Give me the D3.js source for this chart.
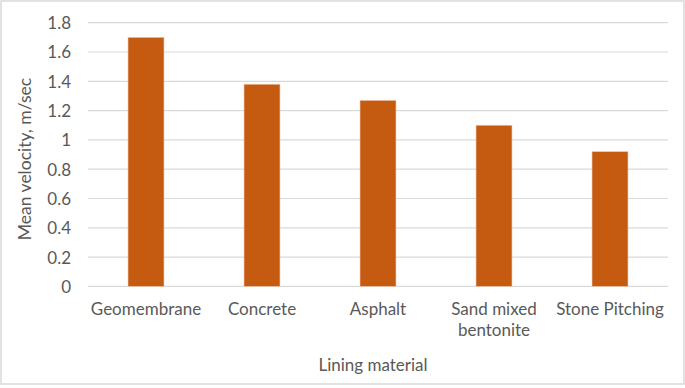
<!DOCTYPE html>
<html><head><meta charset="utf-8">
<script src="https://cdn.jsdelivr.net/npm/d3@7"></script>
<style>body{margin:0;background:#fff}svg{display:block}text{font-family:"Lato","Open Sans",sans-serif;fill:#595959}</style>
</head><body><svg id="c" width="685" height="388"></svg>
<script>
const categories = ["Geomembrane","Concrete","Asphalt","Sand mixed bentonite","Stone Pitching"];
const categoryLines = [["Geomembrane"],["Concrete"],["Asphalt"],["Sand mixed","bentonite"],["Stone Pitching"]];
const values = [1.70,1.38,1.27,1.10,0.92];
const yTicks = [0,0.2,0.4,0.6,0.8,1,1.2,1.4,1.6,1.8];
const yTitle = "Mean velocity, m/sec";
const xTitle = "Lining material";

const svg = d3.select("#c");
svg.append("rect").attr("x",1).attr("y",1).attr("width",683).attr("height",383)
  .attr("fill","#fff").attr("stroke","#d9d9d9").attr("stroke-width",1.5);

const L=88,R=668,T=22.7,B=286.4;
const x = d3.scaleBand().domain(categories).range([L,R]).paddingInner(0.69).paddingOuter(0.345);
const y = d3.scaleLinear().domain([0,1.8]).range([B,T]);
const fs = "17px";

// gridlines
svg.append("g").selectAll("line").data(yTicks).join("line")
  .attr("x1",L).attr("x2",R).attr("y1",d=>y(d)).attr("y2",d=>y(d))
  .attr("stroke","#d9d9d9").attr("stroke-width",1.2);

// y axis labels
const yAxis = d3.axisLeft(y).tickValues(yTicks).tickSize(0).tickPadding(0).tickFormat(d=>String(d));
const ga = svg.append("g").attr("transform",`translate(${L-17},0)`).call(yAxis);
ga.select(".domain").remove();
ga.selectAll("text").style("font-size",fs).attr("fill","#595959").attr("dy","0.35em");

// bars
svg.append("g").selectAll("rect").data(values).join("rect")
  .attr("x",(d,i)=>x(categories[i])).attr("width",x.bandwidth())
  .attr("y",d=>y(d)).attr("height",d=>B-y(d))
  .attr("fill","#c55a11").attr("stroke","#f2c9ad").attr("stroke-width",0.6);

// x labels
const xl = svg.append("g");
categories.forEach((c,i)=>{
  const t = xl.append("text").attr("x",x(c)+x.bandwidth()/2).attr("y",315)
    .attr("text-anchor","middle").style("font-size",fs);
  categoryLines[i].forEach((ln,j)=>{
    t.append("tspan").attr("x",x(c)+x.bandwidth()/2).attr("dy",j?21:0).text(ln);
  });
});

svg.append("text").attr("x",373).attr("y",371).attr("text-anchor","middle")
  .style("font-size",fs).text(xTitle);
svg.append("text").attr("transform",`translate(31,159) rotate(-90)`).attr("text-anchor","middle")
  .style("font-size","17.5px").text(yTitle);
</script></body></html>
